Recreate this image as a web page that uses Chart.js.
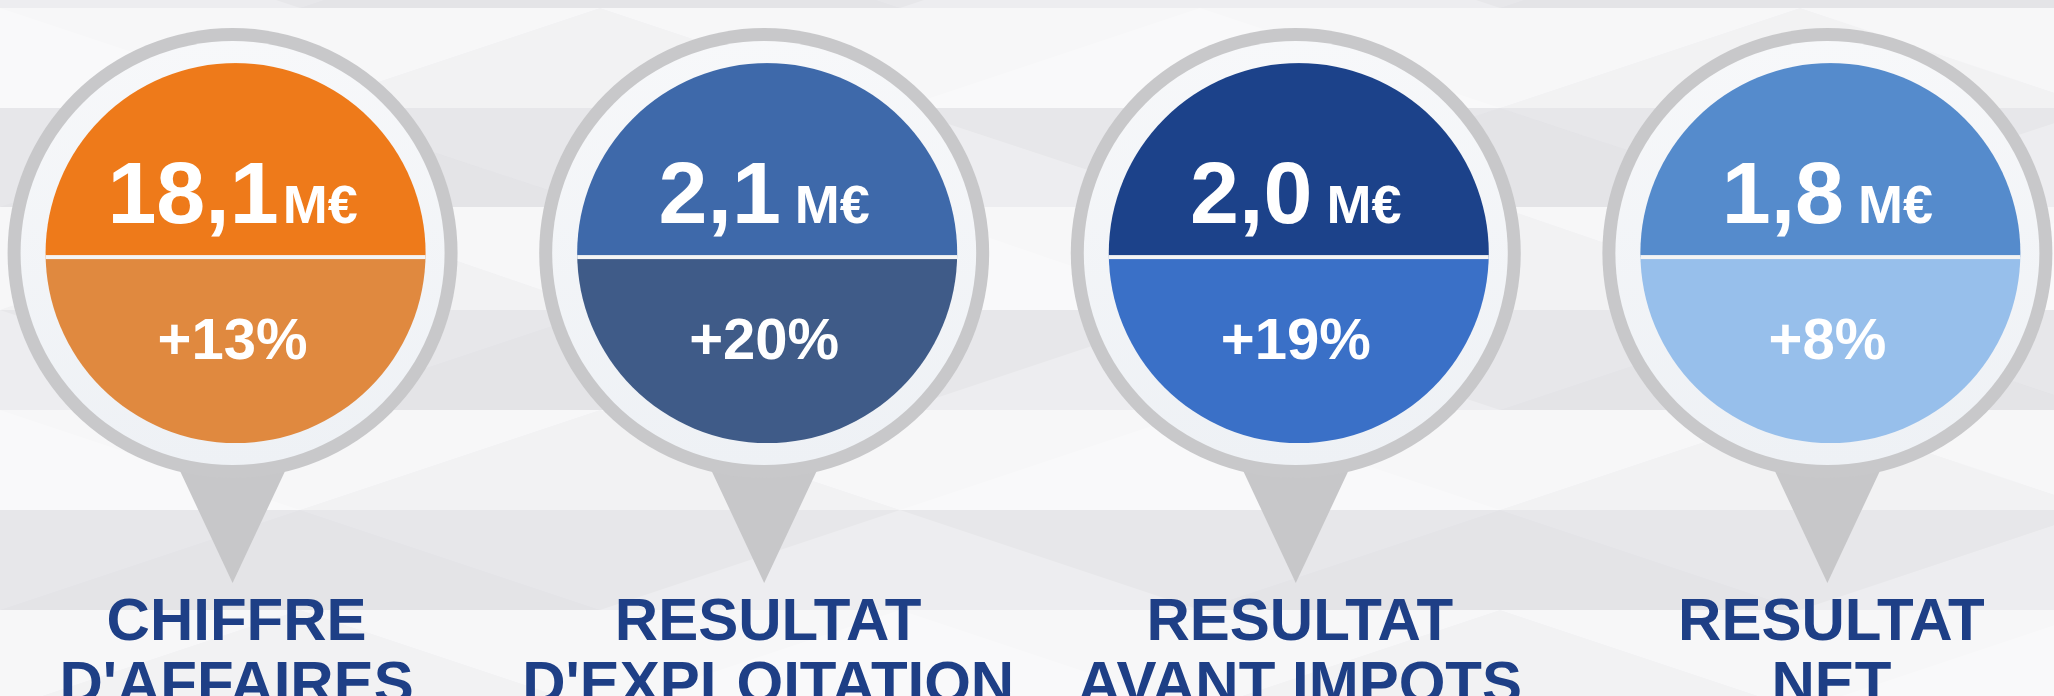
<!DOCTYPE html>
<html><head><meta charset="utf-8">
<script src="https://cdn.jsdelivr.net/npm/chart.js@4.4.1/dist/chart.umd.min.js"></script>
<style>html,body{margin:0;padding:0;background:#f6f6f7;overflow:hidden}canvas{display:block}</style>
</head><body>
<canvas id="c" width="2054" height="696"></canvas>
<script>
// ---- data ----
const categories = [["CHIFFRE","D'AFFAIRES"],["RESULTAT","D'EXPLOITATION"],["RESULTAT","AVANT IMPOTS"],["RESULTAT","NET"]];
const values = [18.1, 2.1, 2.0, 1.8];        // M€
const changes = [13, 20, 19, 8];             // % growth
const unit = "M€";
const topColors = ["#EE7A1A","#3E69AA","#1C428A","#558BCC"];
const bottomColors = ["#E0893F","#3F5B88","#3A70C7","#97BFEB"];

const FONT = '"Liberation Sans", Arial, Helvetica, sans-serif';

const bgPlugin = {
  id: 'bg',
  beforeDraw(chart) {
    const ctx = chart.ctx, W = chart.width, H = chart.height;
    ctx.save();
    ctx.fillStyle = '#f7f7f8';
    ctx.fillRect(0, 0, W, H);
    const bands = [[-92,8],[108,207],[310,410],[510,610]];
    ctx.fillStyle = '#e7e7ea';
    bands.forEach(b => ctx.fillRect(0, b[0], W, b[1]-b[0]));
    // faint facet triangles
    const rows = [[8,108],[207,310],[410,510],[610,710],[-92,8],[108,207],[310,410],[510,610]];
    rows.forEach((r, k) => {
      const t = r[0], b = r[1];
      const off = (k % 2) ? 300 : 0;
      for (let x = -600 + off, j = 0; x < W + 600; x += 600, j++) {
        ctx.beginPath();
        ctx.moveTo(x, t); ctx.lineTo(x + 300, b); ctx.lineTo(x - 300, b); ctx.closePath();
        ctx.fillStyle = (j + k) % 2 ? 'rgba(255,255,255,0.28)' : 'rgba(205,205,210,0.12)';
        ctx.fill();
      }
    });
    ctx.restore();
  }
};

const pinPlugin = {
  id: 'pins',
  afterDatasetsDraw(chart) {
    const ctx = chart.ctx;
    const meta = chart.getDatasetMeta(0);
    meta.data.forEach((pt, i) => {
      const cx = pt.x, cy = pt.y;
      ctx.save();
      // pointer triangle
      ctx.beginPath();
      ctx.moveTo(cx - 68, cy + 185);
      ctx.lineTo(cx + 68, cy + 185);
      ctx.lineTo(cx, cy + 330);
      ctx.closePath();
      ctx.fillStyle = '#c7c7c9';
      ctx.fill();
      // outer ring
      ctx.beginPath(); ctx.arc(cx, cy, 225, 0, Math.PI*2);
      ctx.fillStyle = '#c8c8ca'; ctx.fill();
      ctx.beginPath(); ctx.arc(cx, cy, 212, 0, Math.PI*2);
      const g = ctx.createLinearGradient(cx, cy-212, cx, cy+212);
      g.addColorStop(0, '#f7f8fa'); g.addColorStop(1, '#eef1f5');
      ctx.fillStyle = g; ctx.fill();
      // colored disc
      const R = 190, dy = 4;
      ctx.save();
      ctx.beginPath(); ctx.arc(cx + 3, cy, R, 0, Math.PI*2); ctx.clip();
      ctx.fillStyle = topColors[i];
      ctx.fillRect(cx - R, cy - R, 2*R + 6, R + dy);
      ctx.fillStyle = bottomColors[i];
      ctx.fillRect(cx - R, cy + dy, 2*R + 6, R);
      ctx.fillStyle = '#f4f4f4';
      ctx.fillRect(cx - R, cy + dy - 2, 2*R + 6, 4);
      ctx.restore();
      // value text
      const big = values[i].toFixed(1).replace('.', ',');
      ctx.fillStyle = '#ffffff';
      ctx.textBaseline = 'alphabetic';
      ctx.font = 'bold 88px ' + FONT;
      const w1 = ctx.measureText(big).width;
      ctx.font = 'bold 54px ' + FONT;
      const w2 = ctx.measureText(unit).width;
      const gap = i === 0 ? 4 : 14;
      const x0 = cx - (w1 + gap + w2) / 2;
      ctx.textAlign = 'left';
      ctx.font = 'bold 88px ' + FONT;
      ctx.fillText(big, x0, cy - 30);
      ctx.font = 'bold 54px ' + FONT;
      ctx.fillText(unit, x0 + w1 + gap, cy - 30);
      // change text
      ctx.textAlign = 'center';
      ctx.font = 'bold 58px ' + FONT;
      ctx.fillText('+' + changes[i] + '%', cx, cy + 106);
      // category label
      ctx.fillStyle = '#1e3f86';
      ctx.font = 'bold 60px ' + FONT;
      categories[i].forEach((line, k) => ctx.fillText(line, cx + 4, cy + 387 + k * 63));
      ctx.restore();
    });
  }
};

new Chart(document.getElementById('c'), {
  type: 'scatter',
  data: {
    datasets: [{
      data: values.map((v, i) => ({ x: i, y: 0 })),
      pointRadius: 0,
      pointHoverRadius: 0
    }]
  },
  options: {
    responsive: false,
    animation: false,
    devicePixelRatio: 1,
    layout: { padding: 0 },
    plugins: { legend: { display: false }, tooltip: { enabled: false } },
    events: [],
    scales: {
      x: { type: 'linear', display: false, min: -0.4375, max: 3.4263 },
      y: { type: 'linear', display: false, min: -1.75, max: 1 }
    }
  },
  plugins: [bgPlugin, pinPlugin]
});
</script>
</body></html>
